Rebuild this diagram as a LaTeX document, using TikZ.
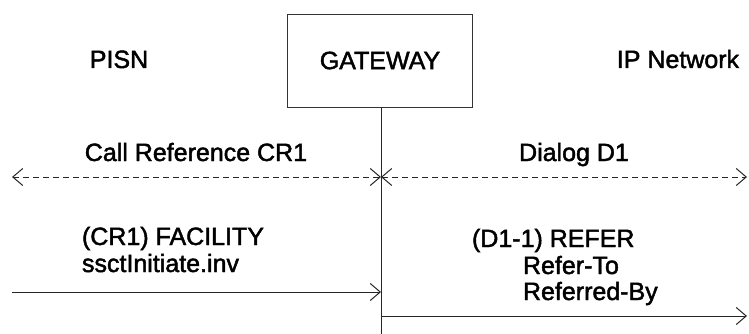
\documentclass[tikz,border=0pt]{standalone}
\usepackage{fontspec}
\setmainfont{Liberation Sans}
\newfontfamily\lblfont{Liberation Sans}[FakeBold=1.8]
\usetikzlibrary{arrows.meta}

\tikzset{
  lbl/.style={inner sep=0pt, outer sep=0pt, font=\lblfont\fontsize{25}{29}\selectfont},
  msg/.style={line width=1pt, draw=black!85, -{Straight Barb[length=10pt,width=17pt]}},
  dmsg/.style={msg, dash pattern=on 6pt off 4pt, {Straight Barb[length=10pt,width=17pt]}-{Straight Barb[length=10pt,width=17pt]}}
}

\begin{document}
\begin{tikzpicture}[x=1pt, y=1pt, yscale=-1]
  \useasboundingbox (0,0) rectangle (749,334);

  % parties
  \node[lbl, anchor=base] (pisn) at (119,68) {PISN};
  \node[lbl, draw=black!80, line width=0.8pt, minimum width=185pt, minimum height=93pt,
    inner sep=0pt] (gw) at (380,60.5) {GATEWAY};
  \node[lbl, anchor=base] (ipn) at (678,68) {IP Network};

  % gateway line
  \coordinate (gwtop) at (381,107);
  \coordinate (gwbot) at (381,334);
  \draw[line width=1pt, black!85] (gwtop) -- (gwbot);

  % references
  \node[lbl, anchor=base] (cref) at (196,161) {Call Reference CR1};
  \node[lbl, anchor=base] (dlg) at (574,161) {Dialog D1};
  \coordinate (crL) at (12,177);
  \coordinate (crR) at (381,177);
  \coordinate (dlR) at (747,177);
  \draw[dmsg] (crL) -- (crR);
  \draw[dmsg] (crR) -- (dlR);

  % messages
  \node[lbl, anchor=base west] (fac) at (82,245) {(CR1) FACILITY};
  \node[lbl, anchor=base west] (ssct) at (82,272) {ssctInitiate.inv};
  \coordinate (m1a) at (12,292);
  \coordinate (m1b) at (381,292);
  \draw[msg] (m1a) -- (m1b);

  \node[lbl, anchor=base west] (refer) at (472,247) {(D1-1) REFER};
  \node[lbl, anchor=base west] (rto) at (523,274) {Refer-To};
  \node[lbl, anchor=base west] (rby) at (523,300) {Referred-By};
  \coordinate (m2a) at (381,316);
  \coordinate (m2b) at (747,316);
  \draw[msg] (m2a) -- (m2b);
\end{tikzpicture}
\end{document}
